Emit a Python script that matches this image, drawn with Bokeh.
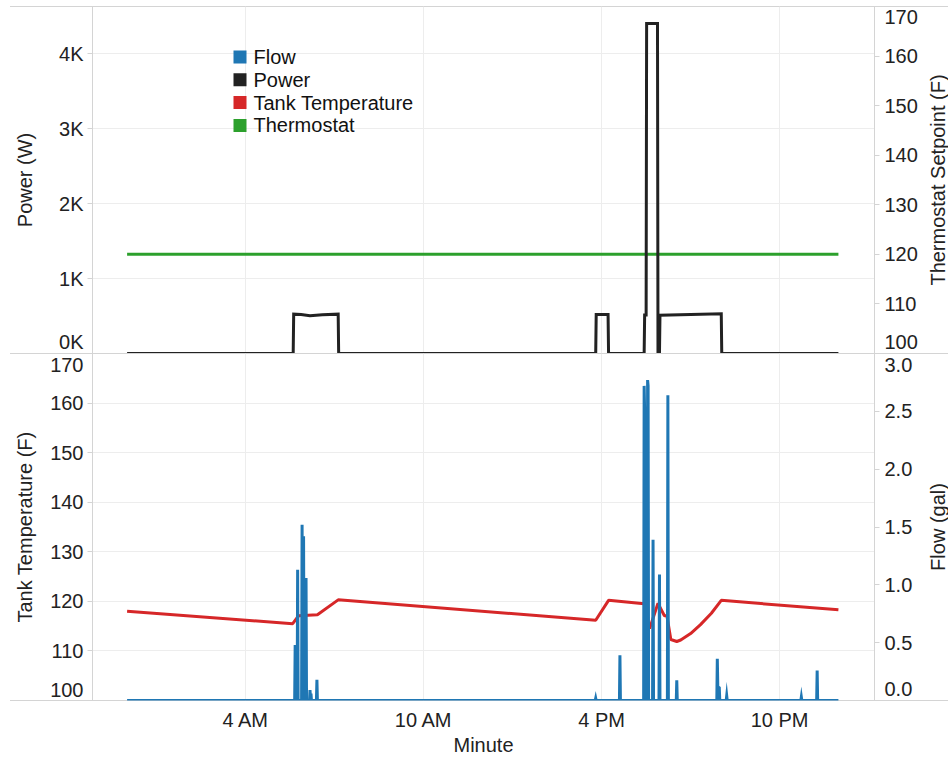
import math

from bokeh.plotting import figure
from bokeh.models import Range1d, LinearAxis, FixedTicker, Grid, Label, BoxAnnotation
from bokeh.layouts import column, row
from bokeh.embed import file_html
from bokeh.resources import INLINE

# ---------------------------------------------------------------- data
# time axis in minutes after midnight
hour_ticks = [240, 600, 960, 1320]
hour_labels = ["4 AM", "10 AM", "4 PM", "10 PM"]

# heater power (W)
power_min = [0, 336, 337, 352, 370, 395, 427, 428, 948, 949, 973, 974,
             1046, 1047, 1050, 1051, 1073, 1074, 1077, 1078, 1202, 1203, 1439]
power_w = [0, 0, 525, 520, 505, 518, 525, 0, 0, 520, 520, 0,
           0, 515, 515, 4400, 4400, 0, 0, 510, 530, 0, 0]

# thermostat setpoint (F)
setpoint_min = [0, 1439]
setpoint_f = [120, 120]

# tank temperature (F)
tank_min = [0, 335, 347, 385, 427, 948, 974, 1046, 1057, 1074, 1087, 1092,
            1100, 1112, 1120, 1140, 1160, 1182, 1202, 1439]
tank_f = [118.0, 115.5, 117.1, 117.3, 120.3, 116.2, 120.2, 119.5, 114.5, 119.6, 117.1, 117.1,
          112.3, 111.9, 112.2, 113.5, 115.3, 117.6, 120.2, 118.3]

# hot water draw (gal per minute)
flow_min = [0,
            339, 340, 341,
            344, 345, 346,
            353, 354, 355, 356, 357, 358,
            361, 362, 363,
            369, 370, 371, 372, 373,
            383, 384, 385,
            947, 948, 949,
            996, 997, 998,
            1045, 1046, 1047, 1048,
            1052, 1053, 1054, 1055,
            1063, 1064, 1065,
            1076, 1077, 1078,
            1093, 1094, 1095,
            1111, 1112, 1113,
            1193, 1194, 1195, 1198, 1199,
            1212, 1213, 1214,
            1363, 1364, 1365,
            1395, 1396, 1397,
            1439]
flow_gal = [0,
            0, 0.48, 0,
            0, 1.13, 0,
            0, 1.52, 0.4, 0, 1.42, 0,
            0, 1.06, 0,
            0, 0.09, 0.02, 0.06, 0,
            0, 0.18, 0,
            0, 0.02, 0,
            0, 0.39, 0,
            0, 2.72, 2.50, 0,
            0, 2.77, 2.72, 0,
            0, 1.39, 0,
            0, 1.09, 0,
            0, 2.64, 0,
            0, 0.175, 0,
            0, 0.36, 0.12, 0.11, 0,
            0, 0.04, 0,
            0, 0.03, 0,
            0, 0.26, 0,
            0]

power_ticks = [0, 1000, 2000, 3000, 4000]
power_tick_labels = ["0K", "1K", "2K", "3K", "4K"]
temp_ticks = [100, 110, 120, 130, 140, 150, 160, 170]
flow_ticks = [0.0, 0.5, 1.0, 1.5, 2.0, 2.5, 3.0]

series_names = ["Flow", "Power", "Tank Temperature", "Thermostat"]
series_colors = ["#1f77b4", "#222222", "#d62728", "#2ca02c"]

# ---------------------------------------------------------------- styling
FONT = "Liberation Sans"
FS = "20px"
TXT = "#222222"
AXIS_GRAY = "#d4d4d4"
GRID_GRAY = "#ededed"

W = 948
TITLE_W = 26            # strip on the far right holding the right-hand axis titles
MAIN_W = W - TITLE_W
LEFT = 92
RIGHT = 48              # right border of the main panes (tick labels only)
FRAME_H = 347
TOP_H = 6 + FRAME_H
BOT_H = FRAME_H + 59
X_RANGE = Range1d(-70, 1512)


def px(rng, n):
    """n pixels expressed in data units of a vertical range."""
    return n * (rng.end - rng.start) / FRAME_H


def value_axis(rng, ticks, labels, title=None, standoff=0, range_name="default",
               shift_low=0.0, shift_high=0.0, label_standoff=4):
    """Axis whose end labels are nudged inside the pane; tick marks stay on the true values."""
    label_pos = list(ticks)
    label_pos[0] = round(ticks[0] + px(rng, shift_low), 4)
    label_pos[-1] = round(ticks[-1] - px(rng, shift_high), 4)
    ax = LinearAxis(y_range_name=range_name,
                    ticker=FixedTicker(ticks=label_pos, minor_ticks=list(ticks)),
                    major_label_overrides=dict(zip(label_pos, labels)))
    if title:
        ax.axis_label = title
    ax.axis_line_color = AXIS_GRAY
    ax.major_tick_line_color = None
    ax.major_tick_out = 5
    ax.major_tick_in = 0
    ax.minor_tick_line_color = AXIS_GRAY
    ax.minor_tick_out = 5
    ax.minor_tick_in = 0
    ax.major_label_standoff = label_standoff
    ax.major_label_text_font = FONT
    ax.major_label_text_font_size = FS
    ax.major_label_text_color = TXT
    ax.axis_label_text_font = FONT
    ax.axis_label_text_font_size = FS
    ax.axis_label_text_font_style = "normal"
    ax.axis_label_text_color = TXT
    ax.axis_label_standoff = standoff
    return ax


def rules(*ys):
    """Full-width hairlines behind the canvases (pane borders), y in pixels from the page top."""
    grad = "linear-gradient(%s, %s)" % (AXIS_GRAY, AXIS_GRAY)
    return {
        "background-color": "white",
        "background-image": ", ".join([grad] * len(ys)),
        "background-size": ", ".join(["%dpx 1px" % (W - 10)] * len(ys)),
        "background-position": ", ".join(["10px %dpx" % y for y in ys]),
        "background-repeat": "no-repeat",
    }


def clear(p):
    p.outline_line_color = None
    p.background_fill_color = None
    p.border_fill_color = None
    return p


def base_figure(height, y_range, border_top, border_bottom):
    p = figure(width=MAIN_W, height=height, x_range=X_RANGE, y_range=y_range,
               x_axis_type=None, y_axis_type=None, toolbar_location=None,
               output_backend="svg", min_border_left=LEFT, min_border_right=RIGHT,
               min_border_top=border_top, min_border_bottom=border_bottom)
    clear(p)
    p.add_layout(Grid(dimension=0, ticker=FixedTicker(ticks=hour_ticks),
                      grid_line_color=GRID_GRAY))
    return p


def title_strip(height, border_top, border_bottom, text):
    """Narrow canvas carrying a right-hand axis title that reads bottom to top."""
    s = figure(width=TITLE_W, height=height, x_range=Range1d(0, 1), y_range=Range1d(0, 1),
               x_axis_type=None, y_axis_type=None, toolbar_location=None,
               output_backend="svg", min_border_left=0, min_border_right=0,
               min_border_top=border_top, min_border_bottom=border_bottom)
    clear(s)
    s.add_layout(Label(x=15, x_units="screen", y=0.5, text=text, angle=math.pi / 2,
                       text_align="center", text_baseline="middle", text_font=FONT,
                       text_font_size=FS, text_color=TXT))
    return s


# ---------------------------------------------------------------- top pane: power and setpoint
power_range = Range1d(0, 4627)
setpoint_range = Range1d(100, 170)
top = base_figure(TOP_H, power_range, 6, 0)
top.extra_y_ranges = {"setpoint": setpoint_range}
top.add_layout(Grid(dimension=1, ticker=FixedTicker(ticks=power_ticks[1:]),
                    grid_line_color=GRID_GRAY))

top.add_layout(value_axis(power_range, power_ticks, power_tick_labels, "Power (W)", 20,
                          shift_low=12), "left")
top.add_layout(value_axis(setpoint_range, temp_ticks, [str(t) for t in temp_ticks],
                          None, 0, "setpoint", shift_low=12, shift_high=11, label_standoff=5), "right")

top.line(setpoint_min, setpoint_f, y_range_name="setpoint", line_color=series_colors[3], line_width=3)
top.line(power_min, power_w, line_color=series_colors[1], line_width=3, line_join="miter")

# legend
for i, (name, color) in enumerate(zip(series_names, series_colors)):
    yc = power_range.end - px(power_range, 50.5 + 22.8 * i)
    top.add_layout(BoxAnnotation(left=233 - LEFT, right=246 - LEFT, left_units="screen", right_units="screen",
                                 bottom=yc - px(power_range, 6.5), top=yc + px(power_range, 6.5),
                                 fill_color=color, fill_alpha=1, line_color=None))
    top.add_layout(Label(x=253 - LEFT, x_units="screen", y=yc, text=name, text_baseline="middle",
                         text_font=FONT, text_font_size=FS, text_color="#111111"))

top_title = title_strip(TOP_H, 6, 0, "Thermostat Setpoint (F)")

# ---------------------------------------------------------------- bottom pane: tank temperature and flow
temp_range = Range1d(100, 170)
flow_range = Range1d(0, 3.0)
bot = base_figure(BOT_H, temp_range, 0, 59)
bot.extra_y_ranges = {"flow": flow_range}
bot.add_layout(Grid(dimension=1, ticker=FixedTicker(ticks=temp_ticks[1:-1]),
                    grid_line_color=GRID_GRAY))

bot.add_layout(value_axis(temp_range, temp_ticks, [str(t) for t in temp_ticks],
                          "Tank Temperature (F)", 11, shift_low=11, shift_high=12), "left")
bot.add_layout(value_axis(flow_range, flow_ticks, ["%.1f" % t for t in flow_ticks], None, 0,
                          "flow", shift_low=12, shift_high=12, label_standoff=5), "right")

ax_time = LinearAxis(ticker=FixedTicker(ticks=hour_ticks), axis_label="Minute",
                     major_label_overrides=dict(zip(hour_ticks, hour_labels)))
ax_time.axis_line_color = None
ax_time.major_tick_line_color = None
ax_time.minor_tick_line_color = None
ax_time.major_tick_out = 0
ax_time.major_label_standoff = 8
ax_time.major_label_text_font = FONT
ax_time.major_label_text_font_size = FS
ax_time.major_label_text_color = TXT
ax_time.axis_label_text_font = FONT
ax_time.axis_label_text_font_size = FS
ax_time.axis_label_text_font_style = "normal"
ax_time.axis_label_text_color = TXT
ax_time.axis_label_standoff = 0
bot.add_layout(ax_time, "below")

bot.line(tank_min, tank_f, line_color=series_colors[2], line_width=3)
bot.line(flow_min, flow_gal, y_range_name="flow", line_color=series_colors[0], line_width=3,
         line_join="miter")

bot_title = title_strip(BOT_H, 0, 59, "Flow (gal)")

layout = column(row(top, top_title, spacing=0), row(bot, bot_title, spacing=0),
                spacing=0, styles=rules(6, TOP_H, TOP_H + FRAME_H))
open("out.html", "w").write(file_html(layout, INLINE))
